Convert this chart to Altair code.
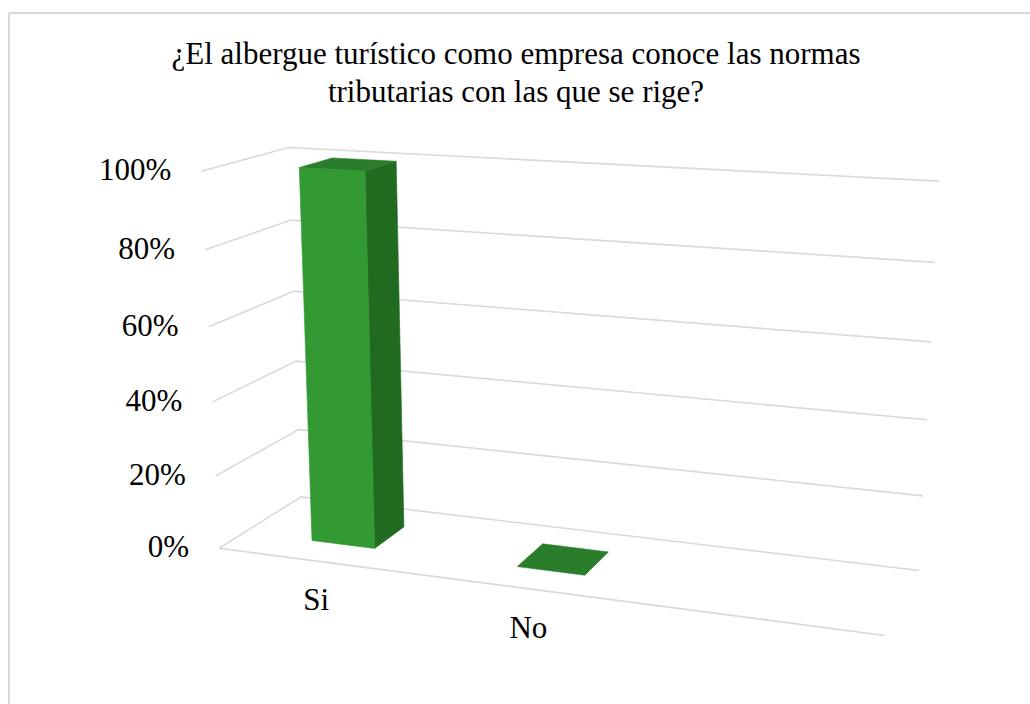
import altair as alt
import numpy as np
import pandas as pd

# ---- chart content -------------------------------------------------------
TITLE_LINES = [
    "¿El albergue turístico como empresa conoce las normas",
    "tributarias con las que se rige?",
]
CATEGORIES = ["Si", "No"]
SHARES = [100, 0]                      # percent of respondents
TICKS = [0, 20, 40, 60, 80, 100]
TICK_LABELS = ["0%", "20%", "40%", "60%", "80%", "100%"]

# ---- 3-D frame layout ------------------------------------------------------
CATEGORY_SLOTS = 3                     # category axis holds three slots
BAR_FRACTION = 0.313                   # bar width as share of a slot
DEPTH_RANGE = (0.30, 0.70)             # bar extent along the depth axis
W, H = 1030, 704
FONT = "Liberation Serif"

# box corners (u = category axis, v = value axis, w = depth) and page position
FRAME = [
    ((0, 0, 0), (220, 548)),
    ((1, 0, 0), (885, 635)),
    ((0, 0, 1), (300, 497)),
    ((1, 0, 1), (919, 571)),
    ((0, 1, 0), (200, 172)),
    ((0, 1, 1), (290, 147)),
    ((1, 1, 1), (939, 181)),
]


def fit_camera(frame):
    rows = []
    for (X, Y, Z), (x, y) in frame:
        x, y = (x - 500) / 500, (y - 400) / 500
        rows.append([X, Y, Z, 1, 0, 0, 0, 0, -x * X, -x * Y, -x * Z, -x])
        rows.append([0, 0, 0, 0, X, Y, Z, 1, -y * X, -y * Y, -y * Z, -y])
    _, _, vt = np.linalg.svd(np.array(rows, dtype=float))
    return vt[-1].reshape(3, 4)


P = fit_camera(FRAME)


def proj(u, v, w):
    h = P @ np.array([u, v, w, 1.0])
    return h[0] / h[2] * 500 + 500, h[1] / h[2] * 500 + 400


# ---- gridlines: side wall + back wall per tick, plus floor front edge ------
grid_rows = []
for t in TICKS:
    v = t / 100
    for k, (u, w) in enumerate([(0, 0), (0, 1), (1, 1)]):
        x, y = proj(u, v, w)
        grid_rows.append({"line": f"g{t}", "k": k, "x": x, "y": y})
for k, u in enumerate([0, 1]):
    x, y = proj(u, 0, 0)
    grid_rows.append({"line": "floor", "k": k, "x": x, "y": y})
grid = pd.DataFrame(grid_rows)

# ---- bar faces --------------------------------------------------------------
faces = {"front": [], "side": [], "top": []}
w0, w1 = DEPTH_RANGE
for i, (cat, share) in enumerate(zip(CATEGORIES, SHARES)):
    c = (i + 0.5) / CATEGORY_SLOTS
    half = BAR_FRACTION / CATEGORY_SLOTS / 2
    u0, u1 = c - half, c + half
    v = share / 100
    shapes = {"top": [(u0, v, w0), (u1, v, w0), (u1, v, w1), (u0, v, w1)]}
    if v > 0:
        shapes["front"] = [(u0, 0, w0), (u1, 0, w0), (u1, v, w0), (u0, v, w0)]
        shapes["side"] = [(u1, 0, w0), (u1, 0, w1), (u1, v, w1), (u1, v, w0)]
    for name, pts in shapes.items():
        for k, p in enumerate(pts + [pts[0]]):
            x, y = proj(*p)
            faces[name].append({"bar": cat, "k": k, "x": x, "y": y})

FACE_COLORS = {"side": "#216b21", "top": "#2a7d2a", "front": "#339933"}

# ---- labels -----------------------------------------------------------------
ylab = pd.DataFrame(
    [{"label": lab, "x": proj(0, t / 100, 0)[0], "y": proj(0, t / 100, 0)[1]}
     for t, lab in zip(TICKS, TICK_LABELS)]
)
xlab = pd.DataFrame(
    [{"label": cat,
      "x": proj((i + 0.5) / CATEGORY_SLOTS, 0, 0)[0],
      "y": proj((i + 0.5) / CATEGORY_SLOTS, 0, 0)[1]}
     for i, cat in enumerate(CATEGORIES)]
)

X = alt.X("x:Q", scale=alt.Scale(domain=[0, W], nice=False, zero=False), axis=None)
Y = alt.Y("y:Q", scale=alt.Scale(domain=[H, 0], nice=False, zero=False), axis=None)

one = alt.Data(values=[{}])

border_top = alt.Chart(one).mark_rule(color="#d9d9d9", strokeWidth=2).encode(
    x=alt.value(9), x2=alt.value(W), y=alt.value(13)
)
border_left = alt.Chart(one).mark_rule(color="#d9d9d9", strokeWidth=2).encode(
    x=alt.value(9), y=alt.value(13), y2=alt.value(H)
)

grid_layer = alt.Chart(grid).mark_line(color="#d9d9d9", strokeWidth=1.6).encode(
    x=X, y=Y, order="k:O", detail="line:N"
)

face_layers = []
for name in ["side", "top", "front"]:
    if not faces[name]:
        continue
    col = FACE_COLORS[name]
    face_layers.append(
        alt.Chart(pd.DataFrame(faces[name]))
        .mark_line(fill=col, stroke=col, strokeWidth=0.6, interpolate="linear")
        .encode(x=X, y=Y, order="k:O", detail="bar:N")
    )

ylab_layer = alt.Chart(ylab).mark_text(
    align="right", baseline="middle", font=FONT, fontSize=31, dx=-30, color="#000000"
).encode(x=X, y=Y, text="label:N")

xlab_layer = alt.Chart(xlab).mark_text(
    align="center", baseline="middle", font=FONT, fontSize=31, dy=40, dx=-3, color="#000000"
).encode(x=X, y=Y, text="label:N")

title_layer = alt.Chart(one).mark_text(
    text=TITLE_LINES, align="center", baseline="alphabetic", font=FONT,
    fontSize=31, lineHeight=38, color="#000000"
).encode(x=alt.value(516), y=alt.value(64))

chart = alt.layer(
    border_top, border_left, grid_layer, *face_layers, ylab_layer, xlab_layer, title_layer
).properties(
    width=W, height=H, padding=0, autosize=alt.AutoSizeParams(type="none"),
    background="#ffffff",
).configure_view(stroke="transparent")

chart.save("out.html", embed_options={"renderer": "svg", "actions": False})
